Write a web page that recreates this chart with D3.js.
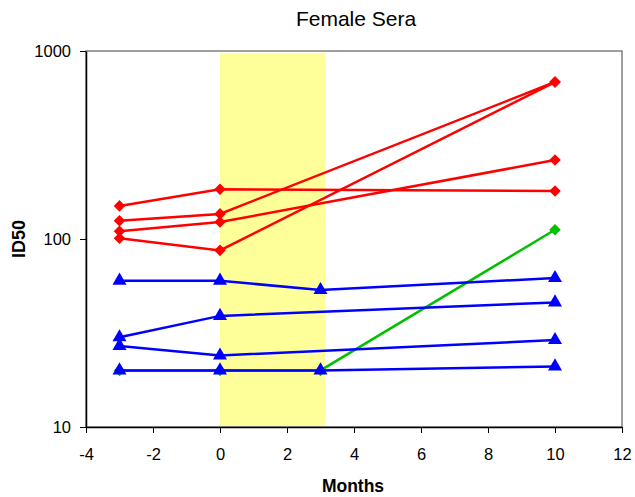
<!DOCTYPE html>
<meta charset="utf-8">
<style>
body {
  margin: 0;
  background: #fff;
}
text {
  font-family: "Liberation Sans", Arial, sans-serif;
}
.frame {
  fill: none;
  stroke: #808080;
  stroke-width: 1.5px;
}
.axis path, .axis line {
  stroke: #000;
}
.axis text {
  font-size: 16.5px;
  fill: #000;
}
</style>
<body>
<script src="https://d3js.org/d3.v7.min.js"></script>
<script>

var width = 635,
    height = 497;

var margin = {top: 51, right: 13, bottom: 70, left: 86};

// months sampled
var months = [-3, 0, 3, 10];

// treatment window (shaded band)
var band = [0, 3.15];

// red: diamonds
var redSeries = [
  [150, 184, null, 180],
  [125, 136, null, 684],
  [110, 123, null, 263],
  [101, 87, null, 684]
];

// green: diamonds
var greenSeries = [
  [20, 20, 20, 112]
];

// blue: triangles
var blueSeries = [
  [60, 60, 53.5, 62],
  [30, 39, null, 46],
  [27, 24, null, 29],
  [20, 20, 20, 21]
];

var xTicks = [-4, -2, 0, 2, 4, 6, 8, 10, 12];
var yTicks = [10, 100, 1000];

var x = d3.scaleLinear()
    .domain([-4, 12])
    .range([margin.left, width - margin.right]);

var y = d3.scaleLog()
    .domain([10, 1000])
    .range([height - margin.bottom, margin.top]);

var svg = d3.select("body").append("svg")
    .attr("width", width)
    .attr("height", height);

// shaded band
svg.append("rect")
    .attr("x", x(band[0]))
    .attr("y", margin.top + 2)
    .attr("width", x(band[1]) - x(band[0]))
    .attr("height", y(10) - margin.top - 3)
    .attr("fill", "#ffff99");

// frame
svg.append("rect")
    .attr("class", "frame")
    .attr("x", margin.left)
    .attr("y", margin.top)
    .attr("width", width - margin.right - margin.left)
    .attr("height", y(10) - margin.top);

// axes (plain hyphen for negatives, like the original)
svg.append("g")
    .attr("class", "axis")
    .attr("transform", "translate(0," + y(10) + ")")
    .call(d3.axisBottom(x).tickValues(xTicks).tickFormat(function(d) { return String(d); })
      .tickSize(6).tickSizeOuter(0).tickPadding(15))
    .call(function(g) { g.select(".domain").attr("stroke-width", 1.5); });

svg.append("g")
    .attr("class", "axis")
    .attr("transform", "translate(" + margin.left + ",0)")
    .call(d3.axisLeft(y).tickValues(yTicks).tickFormat(function(d) { return String(d); })
      .tickSize(6).tickSizeOuter(0).tickPadding(9))
    .call(function(g) {
      g.select(".domain").attr("stroke", "#808080").attr("stroke-width", 1.5);
      g.selectAll(".tick line").attr("stroke", "#808080");
      g.selectAll(".tick text").attr("dy", "0.36em");
    });

var line = d3.line()
    .x(function(d) { return x(d.m); })
    .y(function(d) { return y(d.v); });

function toPoints(vals) {
  return vals.map(function(v, i) { return {m: months[i], v: v}; })
    .filter(function(d) { return d.v != null; });
}

var diamond = d3.symbol().type(d3.symbolDiamond2).size(85);
var triangle = d3.symbol().type(d3.symbolTriangle).size(85);

function drawGroup(series, color, sym) {
  var g = svg.append("g");
  series.forEach(function(vals) {
    var pts = toPoints(vals);
    g.append("path")
        .datum(pts)
        .attr("fill", "none")
        .attr("stroke", color)
        .attr("stroke-width", 2.5)
        .attr("d", line);
    g.selectAll(null)
        .data(pts)
      .enter().append("path")
        .attr("transform", function(d) { return "translate(" + x(d.m) + "," + y(d.v) + ")"; })
        .attr("d", sym)
        .attr("fill", color);
  });
}

drawGroup(greenSeries, "#00c000", diamond);
drawGroup(redSeries, "#ff0000", diamond);
drawGroup(blueSeries, "#0000ff", triangle);

// titles
svg.append("text")
    .attr("x", 356)
    .attr("y", 26)
    .attr("text-anchor", "middle")
    .style("font-size", "21px")
    .text("Female Sera");

svg.append("text")
    .attr("x", 353)
    .attr("y", 492)
    .attr("text-anchor", "middle")
    .style("font-size", "17.5px")
    .style("font-weight", "bold")
    .text("Months");

svg.append("text")
    .attr("transform", "translate(25," + y(100) + ") rotate(-90)")
    .attr("text-anchor", "middle")
    .style("font-size", "18px")
    .style("font-weight", "bold")
    .text("ID50");

</script>
